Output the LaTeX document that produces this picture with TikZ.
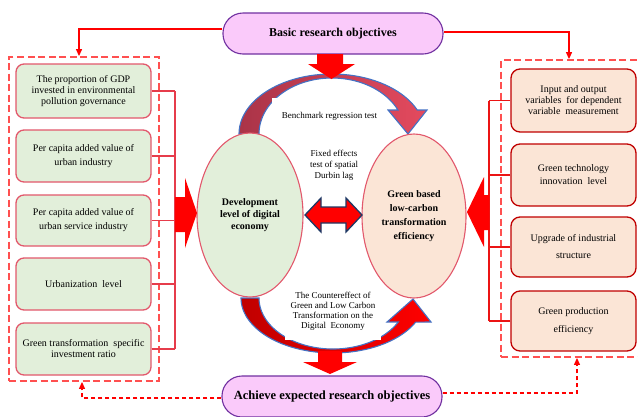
\documentclass[tikz,border=0pt]{standalone}
\usepackage{fontspec}
\setmainfont{Liberation Serif}
\usetikzlibrary{arrows.meta,calc,shapes.geometric}
\definecolor{pillfill}{RGB}{250,202,250}
\definecolor{pillline}{RGB}{112,48,160}
\definecolor{gfill}{RGB}{226,239,218}
\definecolor{gline}{RGB}{226,88,108}
\definecolor{ofill}{RGB}{251,229,214}
\definecolor{oline}{RGB}{192,0,0}
\definecolor{dashred}{RGB}{255,80,80}
\definecolor{arcblue}{RGB}{68,114,196}
\definecolor{navy}{RGB}{31,56,100}
\definecolor{topL}{RGB}{170,52,72}
\definecolor{topR}{RGB}{228,74,94}
\definecolor{botL}{RGB}{192,0,0}
\definecolor{botR}{RGB}{255,0,0}
\definecolor{lbuscol}{RGB}{230,60,75}
\definecolor{rbuscol}{RGB}{235,20,20}
\begin{document}
\begin{tikzpicture}[x=1pt,y=-1pt,
  pill/.style={draw=pillline, fill=pillfill, line width=1.1pt, rounded corners=20pt, inner sep=0pt, font=\fontsize{12}{14}\selectfont\bfseries},
  lbox/.style={draw=gline, fill=gfill, line width=1.3pt, rounded corners=8pt, minimum width=135pt, minimum height=52pt, align=center, inner sep=2pt, font=\fontsize{10}{11}\selectfont},
  rbox/.style={draw=oline, fill=ofill, line width=1.3pt, rounded corners=9pt, minimum width=125pt, align=center, inner sep=2pt, font=\fontsize{10}{11}\selectfont},
  dbox/.style={draw=dashred, line width=1.8pt, dash pattern=on 7pt off 3.5pt},
  lbus/.style={draw=lbuscol, line width=1.2pt},
  rbus/.style={draw=rbuscol, line width=1.2pt},
  conn/.style={draw=red, line width=1.1pt, -{Triangle[length=7pt,width=6pt]}},
  dconn/.style={conn, dash pattern=on 4pt off 3pt},
  ell/.style={ellipse, draw=gline, line width=1.1pt, align=center, inner sep=0pt, font=\fontsize{10}{12}\selectfont\bfseries},
  small/.style={align=center, inner sep=0pt, font=\fontsize{9}{11}\selectfont}
]
\useasboundingbox (0,0) rectangle (638,416);

% dashed group frames
\node[dbox, minimum width=150pt, minimum height=324pt] (LD) at (84,219) {};
\node[dbox, minimum width=145pt, minimum height=297pt] (RD) at (573.5,208.5) {};

% left bus (drawn under boxes)
\coordinate (lb) at (175,0);
\coordinate (rb) at (489,0);

% left boxes
\node[lbox, minimum height=54pt, font=\fontsize{10}{10.6}\selectfont] (L1) at (83.5,91) {The proportion of GDP\\invested in environmental\\pollution governance};
\node[lbox, font=\fontsize{10}{14}\selectfont] (L2) at (83.5,156) {Per capita added value of\\urban industry};
\node[lbox, minimum height=51pt, font=\fontsize{10}{14}\selectfont] (L3) at (83.5,220.5) {Per capita added value of\\urban service industry};
\node[lbox] (L4) at (83.5,284) {Urbanization\ \ level};
\node[lbox] (L5) at (83.5,349) {Green transformation\ \ specific\\investment ratio};

% right boxes
\node[rbox, minimum height=63pt] (R1) at (573.5,100.5) {Input and output\\variables\ \ for dependent\\variable\ \ measurement};
\node[rbox, minimum height=62pt, font=\fontsize{10}{13}\selectfont] (R2) at (573.5,175) {Green technology\\innovation\ \ level};
\node[rbox, minimum height=60pt, font=\fontsize{10}{17}\selectfont] (R3) at (573.5,247) {Upgrade of industrial\\structure};
\node[rbox, minimum height=60pt, font=\fontsize{10}{18}\selectfont] (R4) at (573.5,321) {Green production\\efficiency};

% buses
\foreach \n in {L1,L2,L3,L4,L5} {\draw[lbus] (\n.east) -- (\n.east -| lb);}
\draw[lbus] (L1.east -| lb) -- (L5.east -| lb);
\foreach \n in {R1,R2,R3,R4} {\draw[rbus] (\n.west) -- (\n.west -| rb);}
\draw[rbus] (R1.west -| rb) -- (R4.west -| rb);

% curved arrows
\shadedraw[left color=topL, right color=topR, draw=arcblue, line width=1.1pt, line join=miter]
  plot[domain=180:23.58, samples=60] ({332+93*cos(\x)},{134-60*sin(\x)})
  -- (427,110) -- (408,134) -- (388,110)
  -- plot[domain=25.38:180, samples=60] ({332+73*cos(\x)},{134-56*sin(\x)}) -- cycle;
\shadedraw[left color=botL, right color=botR, draw=arcblue, line width=1.1pt, line join=miter]
  plot[domain=180:334, samples=60] ({333+92*cos(\x)},{298-55*sin(\x)})
  -- (431,322) -- (413,299) -- (387,322)
  -- plot[domain=332:180, samples=60] ({333+74*cos(\x)},{298-51*sin(\x)}) -- cycle;

% text panels
\node[small, fill=white, minimum width=115pt, minimum height=37pt] (BR) at (329.5,116.5) {Benchmark regression test};
\node[small, fill=white, minimum width=96pt, minimum height=57pt, font=\fontsize{9}{10}\selectfont] (CE) at (333,311.5) {The Countereffect of\\Green and Low Carbon\\Transformation on the\\Digital\ \ Economy};
\node[small] (FE) at (334,165.5) {Fixed effects\\test of spatial\\Durbin lag};

% ellipses
\node[ell, fill=gfill, minimum width=106pt, minimum height=164pt] (D) at (250,215) {Development\\level of digital\\economy};
\node[ell, fill=ofill, minimum width=104pt, minimum height=164pt, font=\fontsize{10}{14}\selectfont\bfseries] (G) at (414,216) {Green based\\low-carbon\\transformation\\efficiency};

% pills
\node[pill, minimum width=220pt, minimum height=41pt] (T) at (333,33.5) {Basic research objectives};
\node[pill, minimum width=220pt, minimum height=41pt, font=\fontsize{12.5}{14}\selectfont\bfseries] (B) at (332,396.5) {Achieve expected research objectives};

% straight block arrows
\fill[red] (317,54) -- (343,54) -- (343,64) -- (355,64) -- (331.5,79) -- (308,64) -- (317,64) -- cycle;
\fill[red] (318,351) -- (342,351) -- (342,362) -- (357,362) -- (330,374) -- (303,362) -- (318,362) -- cycle;
\fill[red] (175,197) -- (185,197) -- (185,178) -- (197,213) -- (185,248) -- (185,232) -- (175,232) -- cycle;
\fill[red] (489,195) -- (484,195) -- (484,177) -- (467,212) -- (484,247) -- (484,230) -- (489,230) -- cycle;
\filldraw[fill=red, draw=navy, line width=1.3pt, line join=miter] (305,215) -- (321,198) -- (321,207) -- (346,207) -- (346,198) -- (362,215) -- (346,232) -- (346,223) -- (321,223) -- (321,232) -- cycle;

% connectors
\draw[conn] ($(T.west)+(0,-4.5)$) -| ($(LD.north)+(-5,0)$);
\draw[conn] ($(T.east)+(0,-1.5)$) -| ($(RD.north)+(-4.5,0)$);
\draw[dconn] ($(B.west)+(0,1.5)$) -| ($(LD.south)+(-2,0)$);
\draw[dconn] ($(B.east)+(0,-3.5)$) -| ($(RD.south)+(3.5,0)$);
\end{tikzpicture}
\end{document}
